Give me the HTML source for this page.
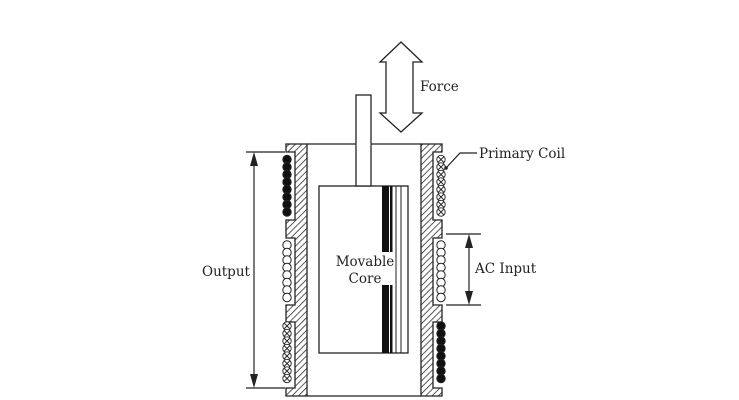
<!DOCTYPE html>
<html><head><style>
html,body{margin:0;padding:0;background:#fff;}
svg{display:block;}
text{font-family:"DejaVu Serif","Liberation Serif",serif;font-size:13.5px;fill:#222;}
</style></head><body>
<svg width="739" height="400" viewBox="0 0 739 400" xmlns="http://www.w3.org/2000/svg">
<defs>
<pattern id="h" patternUnits="userSpaceOnUse" width="4.5" height="4.5" patternTransform="rotate(45)">
<rect width="4.5" height="4.5" fill="#fff"/><line x1="0" y1="0" x2="0" y2="4.5" stroke="#222" stroke-width="1.5"/>
</pattern>
</defs>
<g stroke="#222" stroke-width="1.3" fill="url(#h)">
<path d="M286,144 L307,144 L307,396 L286,396 L286,388 L295,388 L295,322 L286,322 L286,305 L295,305 L295,238 L286,238 L286,220 L295,220 L295,152 L286,152 Z"/>
<path d="M442,144 L421,144 L421,396 L442,396 L442,388 L433,388 L433,322 L442,322 L442,305 L433,305 L433,238 L442,238 L442,220 L433,220 L433,152 L442,152 Z"/>
</g>
<g stroke="#222" stroke-width="1.3" fill="none">
<line x1="307" y1="144" x2="421" y2="144"/>
<line x1="307" y1="396" x2="421" y2="396"/>
<rect x="319" y="186" width="89" height="167" fill="#fff"/>
<rect x="356" y="95" width="15" height="91" fill="#fff"/>
</g>
<rect x="356.6" y="143" width="13.8" height="3" fill="#fff"/>
<g fill="#111">
<rect x="382" y="186" width="7" height="66"/><rect x="382" y="285" width="7" height="68"/>
<rect x="390" y="186" width="2.5" height="66"/><rect x="390" y="285" width="2.5" height="68"/>
</g>
<g stroke="#222" stroke-width="1">
<line x1="396" y1="186" x2="396" y2="353"/>
<line x1="401" y1="186" x2="401" y2="353"/>
</g>
<g stroke="#222" stroke-width="1">
<g fill="#111">
<circle cx="287" cy="159.5" r="4.2"/><circle cx="287" cy="167" r="4.2"/><circle cx="287" cy="174.5" r="4.2"/><circle cx="287" cy="182" r="4.2"/><circle cx="287" cy="189.5" r="4.2"/><circle cx="287" cy="197" r="4.2"/><circle cx="287" cy="204.5" r="4.2"/><circle cx="287" cy="212" r="4.2"/>
<circle cx="441" cy="326" r="4.2"/><circle cx="441" cy="333.5" r="4.2"/><circle cx="441" cy="341" r="4.2"/><circle cx="441" cy="348.5" r="4.2"/><circle cx="441" cy="356" r="4.2"/><circle cx="441" cy="363.5" r="4.2"/><circle cx="441" cy="371" r="4.2"/><circle cx="441" cy="378.5" r="4.2"/>
</g>
<g fill="#fff">
<circle cx="287" cy="245" r="4.2"/><circle cx="287" cy="252.5" r="4.2"/><circle cx="287" cy="260" r="4.2"/><circle cx="287" cy="267.5" r="4.2"/><circle cx="287" cy="275" r="4.2"/><circle cx="287" cy="282.5" r="4.2"/><circle cx="287" cy="290" r="4.2"/><circle cx="287" cy="297.5" r="4.2"/>
<circle cx="441" cy="245" r="4.2"/><circle cx="441" cy="252.5" r="4.2"/><circle cx="441" cy="260" r="4.2"/><circle cx="441" cy="267.5" r="4.2"/><circle cx="441" cy="275" r="4.2"/><circle cx="441" cy="282.5" r="4.2"/><circle cx="441" cy="290" r="4.2"/><circle cx="441" cy="297.5" r="4.2"/>
</g>
</g>
<g stroke="#222" stroke-width="0.9" fill="#fff">
<g transform="translate(287,326)"><circle r="4.2"/><path d="M-3,-3L3,3M-3,3L3,-3"/></g>
<g transform="translate(287,333.5)"><circle r="4.2"/><path d="M-3,-3L3,3M-3,3L3,-3"/></g>
<g transform="translate(287,341)"><circle r="4.2"/><path d="M-3,-3L3,3M-3,3L3,-3"/></g>
<g transform="translate(287,348.5)"><circle r="4.2"/><path d="M-3,-3L3,3M-3,3L3,-3"/></g>
<g transform="translate(287,356)"><circle r="4.2"/><path d="M-3,-3L3,3M-3,3L3,-3"/></g>
<g transform="translate(287,363.5)"><circle r="4.2"/><path d="M-3,-3L3,3M-3,3L3,-3"/></g>
<g transform="translate(287,371)"><circle r="4.2"/><path d="M-3,-3L3,3M-3,3L3,-3"/></g>
<g transform="translate(287,378.5)"><circle r="4.2"/><path d="M-3,-3L3,3M-3,3L3,-3"/></g>
<g transform="translate(441,159.5)"><circle r="4.2"/><path d="M-3,-3L3,3M-3,3L3,-3"/></g>
<g transform="translate(441,167)"><circle r="4.2"/><path d="M-3,-3L3,3M-3,3L3,-3"/></g>
<g transform="translate(441,174.5)"><circle r="4.2"/><path d="M-3,-3L3,3M-3,3L3,-3"/></g>
<g transform="translate(441,182)"><circle r="4.2"/><path d="M-3,-3L3,3M-3,3L3,-3"/></g>
<g transform="translate(441,189.5)"><circle r="4.2"/><path d="M-3,-3L3,3M-3,3L3,-3"/></g>
<g transform="translate(441,197)"><circle r="4.2"/><path d="M-3,-3L3,3M-3,3L3,-3"/></g>
<g transform="translate(441,204.5)"><circle r="4.2"/><path d="M-3,-3L3,3M-3,3L3,-3"/></g>
<g transform="translate(441,212)"><circle r="4.2"/><path d="M-3,-3L3,3M-3,3L3,-3"/></g>
</g>
<g stroke="#222" stroke-width="1.2" fill="none">
<line x1="246" y1="152" x2="285" y2="152"/><line x1="246" y1="388" x2="285" y2="388"/>
<line x1="254" y1="156" x2="254" y2="384"/>
<line x1="446" y1="234" x2="481" y2="234"/><line x1="446" y1="305" x2="481" y2="305"/>
<line x1="469" y1="238" x2="469" y2="301"/>
<polyline points="446,168 460,153 477,153"/>
</g>
<g fill="#222">
<path d="M254,152 L250,166 L258,166 Z"/><path d="M254,388 L250,374 L258,374 Z"/>
<path d="M469,234 L465,248 L473,248 Z"/><path d="M469,305 L465,291 L473,291 Z"/>
<circle cx="446" cy="168" r="1.8"/>
</g>
<path d="M401,42 L422,62 L413,62 L413,113 L422,113 L401,132 L380,113 L386,113 L386,62 L380,62 Z" fill="#fff" stroke="#222" stroke-width="1.3"/>
<text x="420" y="91">Force</text>
<text x="479" y="158">Primary Coil</text>
<text x="202" y="276">Output</text>
<text x="475" y="273">AC Input</text>
<rect x="334" y="252" width="60" height="33" fill="#fff"/>
<text x="365" y="266" text-anchor="middle">Movable</text>
<text x="365" y="283" text-anchor="middle">Core</text>
</svg>
</body></html>
